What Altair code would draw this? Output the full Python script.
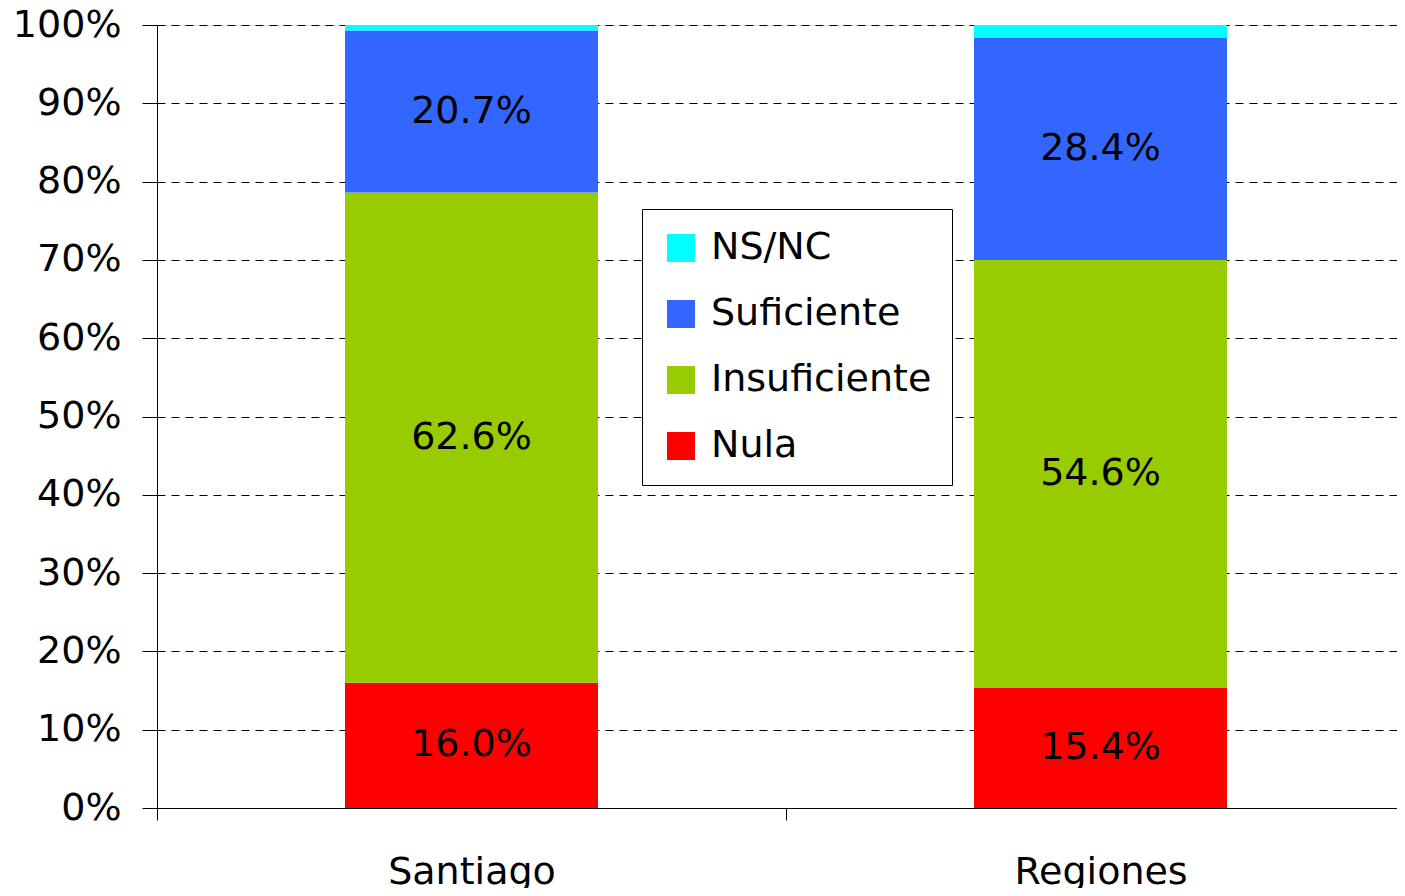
import altair as alt
import pandas as pd

grupos = ["Santiago", "Regiones"]
categorias = ["Nula", "Insuficiente", "Suficiente", "NS/NC"]
santiago_vals = [16.0, 62.6, 20.7, 0.7]
regiones_vals = [15.4, 54.6, 28.4, 1.6]
colores = ["#FF0000", "#99CC00", "#3366FF", "#00FFFF"]
legend_order = ["NS/NC", "Suficiente", "Insuficiente", "Nula"]
y_ticks = [0, 0.1, 0.2, 0.3, 0.4, 0.5, 0.6, 0.7, 0.8, 0.9, 1.0]

FONT = "DejaVu Sans"

rows = []
for g, vals in zip(grupos, [santiago_vals, regiones_vals]):
    for i, (cat, v) in enumerate(zip(categorias, vals)):
        rows.append({
            "grupo": g,
            "cat": cat,
            "orden": i,
            "valor": v / 100.0,
            "etiqueta": f"{v:.1f}%" if cat != "NS/NC" else "",
        })
df = pd.DataFrame(rows)

color_map = dict(zip(categorias, colores))

x_enc = alt.X(
    "grupo:N",
    sort=grupos,
    scale=alt.Scale(range=[0, 1258], paddingInner=0, paddingOuter=0),
    axis=alt.Axis(
        title=None, labelAngle=0, tickBand="extent", tickSize=12,
        labelPadding=33, labelFontSize=38, labelFont=FONT, labelColor="black",
        domainColor="black", tickColor="black", grid=False,
    ),
)

y_axis = alt.Axis(
    title=None, format="%", values=y_ticks, tickSize=15, labelPadding=21,
    labelFontSize=38, labelFont=FONT, labelColor="black",
    gridDash=[8, 6], gridColor="black", gridOpacity=1, grid=True,
    domainColor="black", tickColor="black",
)
y_scale = alt.Scale(domain=[0, 1], nice=False)

bars = alt.Chart(df).mark_bar(width=253).encode(
    x=x_enc,
    y=alt.Y("valor:Q", stack="zero", scale=y_scale, axis=y_axis),
    color=alt.Color(
        "cat:N",
        scale=alt.Scale(domain=legend_order, range=[color_map[c] for c in legend_order]),
        legend=alt.Legend(
            orient="none", legendX=485, legendY=184, title=None,
            symbolType="square", symbolSize=784, symbolStrokeWidth=0, symbolOpacity=1,
            labelFontSize=38, labelFont=FONT, labelColor="black", labelLimit=500,
            rowPadding=28, padding=20, strokeColor="black", fillColor="white",
            labelOffset=11,
        ),
    ),
    order=alt.Order("orden:Q", sort="ascending"),
)

texts = alt.Chart(df).transform_stack(
    stack="valor", groupby=["grupo"], as_=["y0", "y1"],
    sort=[alt.SortField("orden", order="ascending")],
).transform_calculate(
    ymid="(datum.y0 + datum.y1) / 2"
).mark_text(fontSize=38, font=FONT, color="black", baseline="middle", align="center").encode(
    x=x_enc,
    y=alt.Y("ymid:Q", scale=y_scale, axis=y_axis),
    text="etiqueta:N",
)

chart = alt.layer(bars, texts).properties(
    width=1240, height=783,
    autosize=alt.AutoSizeParams(type="none"),
    padding={"left": 149, "top": 17, "right": 0, "bottom": 80},
).configure_view(stroke=None).configure(background="white")

chart.save("out.html", embed_options={"renderer": "svg", "actions": False})
